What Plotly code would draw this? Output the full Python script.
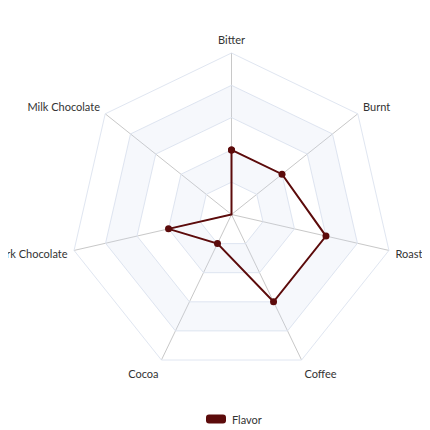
import plotly.graph_objects as go

# flavor profile (radar)
categories = ['Bitter', 'Burnt', 'Roasted', 'Coffee', 'Cocoa', 'Dark Chocolate', 'Milk Chocolate']
flavor = [4, 4, 6, 6, 2, 4, 0]
series_name = 'Flavor'
r_max = 10
n_split = 5

line_color = '#5c0b0b'
band_color = 'rgba(210,219,238,0.2)'
W = H = 430
off = 8  # page body margin, the figure is shifted by this much

fig = go.Figure()

# shaded split areas (every other ring), drawn as rings with a hole
step = r_max / n_split
closed = categories + [categories[0]]
for i in range(n_split):
    if i % 2 == 0:
        continue
    inner = step * i
    outer = step * (i + 1)
    rr = [outer] * len(closed) + [inner] * len(closed)
    th = closed + closed[::-1]
    fig.add_trace(go.Scatterpolar(
        r=rr, theta=th, mode='lines', fill='toself',
        fillcolor=band_color, line=dict(width=0),
        hoverinfo='skip', showlegend=False,
    ))

fig.add_trace(go.Scatterpolar(
    r=flavor + [flavor[0]], theta=closed,
    mode='lines+markers', name=series_name,
    line=dict(color=line_color, width=2),
    marker=dict(color=line_color, size=7),
    showlegend=False,
))

# legend: rounded box + label
def px_x(v):
    return (v - off) / W

def px_y(v):
    return 1 - (v - off) / H

x0, x1 = px_x(206), px_x(226)
y0, y1 = px_y(423.5), px_y(414.5)
rx, ry = 3 / W, 3 / H
path = (f'M {x0+rx},{y0} L {x1-rx},{y0} Q {x1},{y0} {x1},{y0+ry} '
        f'L {x1},{y1-ry} Q {x1},{y1} {x1-rx},{y1} L {x0+rx},{y1} '
        f'Q {x0},{y1} {x0},{y1-ry} L {x0},{y0+ry} Q {x0},{y0} {x0+rx},{y0} Z')
fig.add_shape(type='path', path=path, xref='paper', yref='paper',
              fillcolor=line_color, line=dict(width=0))
fig.add_annotation(text=series_name, xref='paper', yref='paper',
                   x=px_x(230), y=px_y(419), xanchor='left', yanchor='middle',
                   showarrow=False, font=dict(size=11, color='#333'))

cx, cy, R = 231.5, 214.5, 161.5
fig.update_layout(
    width=W, height=H,
    margin=dict(l=0, r=0, t=0, b=0),
    paper_bgcolor='white',
    showlegend=False,
    font=dict(family='Lato', size=11, color='#333'),
    polar=dict(
        domain=dict(x=[px_x(cx - R), px_x(cx + R)], y=[px_y(cy + R), px_y(cy - R)]),
        gridshape='linear',
        bgcolor='white',
        radialaxis=dict(range=[0, r_max], dtick=step, showticklabels=False,
                        ticks='', showline=False, gridcolor='#E0E6F1', gridwidth=1),
        angularaxis=dict(direction='clockwise', rotation=90, categoryorder='array',
                         categoryarray=categories, gridcolor='#c8c8c8',
                         linecolor='#E0E6F1', ticks='outside', ticklen=4,
                         tickcolor='rgba(0,0,0,0)'),
    ),
)

fig.write_html('out.html')
